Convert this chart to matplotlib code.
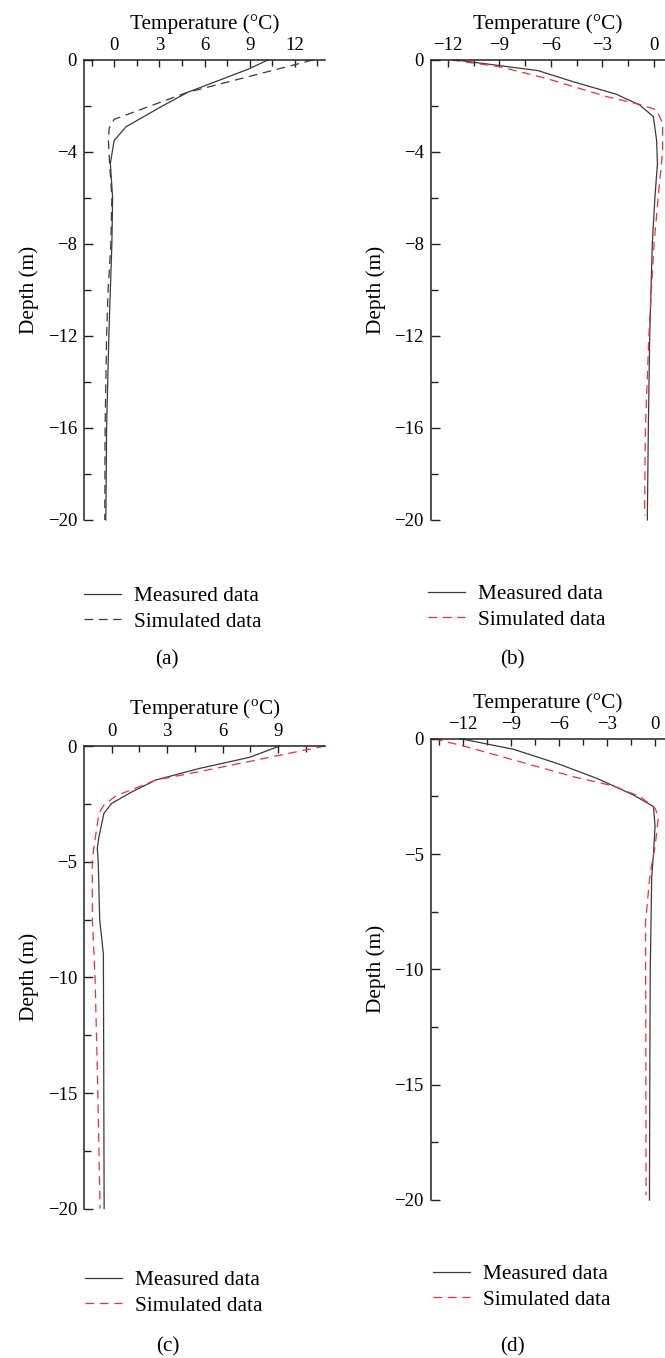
import numpy as np
import matplotlib.pyplot as plt
from matplotlib.lines import Line2D

plt.rcParams['font.family'] = ['Liberation Serif', 'DejaVu Serif']
plt.rcParams['mathtext.fontset'] = 'custom'
plt.rcParams['mathtext.rm'] = 'Liberation Serif'

W, H = 665, 1358
GREY = "#3a3a3a"
RED = "#e8343a"

# (a)
a_meas_depth = [0, -0.4, -1.4, -2.0, -2.9, -3.5, -4.5, -6, -8, -12, -16, -20]
a_meas_temp = [10.2, 8.9, 4.9, 3.2, 0.8, 0.0, -0.25, -0.1, -0.15, -0.35, -0.5, -0.55]
a_sim_depth = [0, -1.42, -2.58, -2.97, -3.5, -4.5, -6, -8, -10, -12, -16, -20]
a_sim_temp = [13.2, 4.8, 0.0, -0.33, -0.38, -0.3, -0.15, -0.22, -0.4, -0.5, -0.6, -0.62]

# (b)
b_meas_depth = [0, -0.46, -0.94, -1.49, -1.96, -2.46, -3.48, -4.5, -6, -8, -12, -16, -20]
b_meas_temp = [-11.5, -6.76, -4.72, -2.19, -0.83, -0.04, 0.15, 0.2, 0.05, -0.1, -0.25, -0.33, -0.39]
b_sim_depth = [0, -0.29, -0.8, -1.59, -1.93, -2.17, -2.75, -4.0, -5.5, -8, -12, -16, -19.8]
b_sim_temp = [-11.8, -8.99, -6.27, -2.77, -0.83, 0.15, 0.5, 0.5, 0.3, 0.0, -0.3, -0.5, -0.55]

# (c)
c_meas_depth = [0, -0.49, -0.97, -1.47, -1.97, -2.48, -2.91, -3.92, -4.42, -5, -7.5, -9, -20]
c_meas_temp = [9.1, 7.46, 4.75, 2.39, 1.12, 0.0, -0.42, -0.69, -0.78, -0.73, -0.65, -0.45, -0.41]
c_sim_depth = [0, -0.17, -1.11, -1.47, -2.16, -2.55, -2.91, -4.35, -5.0, -7.5, -10, -15, -20]
c_sim_temp = [11.55, 10.5, 4.75, 2.39, 0.22, -0.42, -0.69, -0.96, -1.05, -1.05, -0.9, -0.75, -0.63]

# (d)
d_meas_depth = [0, -0.46, -1.07, -1.72, -2.44, -2.94, -3.8, -5, -6, -10, -15, -20]
d_meas_temp = [-12.15, -8.83, -6.12, -3.63, -1.35, -0.1, 0.0, -0.1, -0.21, -0.3, -0.33, -0.35]
d_sim_depth = [0, -0.32, -0.92, -1.65, -2.05, -2.51, -3.02, -3.38, -4.68, -5.84, -8, -12, -16, -19.8]
d_sim_temp = [-13.8, -11.94, -8.83, -5.09, -2.6, -0.93, 0.0, 0.21, 0.0, -0.31, -0.6, -0.58, -0.57, -0.56]

panels = [
    # data, sim colour, xlabel, xlim, xmajor, xminor, ymajor, yminor, rect (l, r, t, b px), legend pos, caption pos
    ((a_meas_temp, a_meas_depth, a_sim_temp, a_sim_depth), GREY, "Temperature (°C)",
     (-2, 14), [0, 3, 6, 9, 12], [-1.5, 1.5, 4.5, 7.5, 10.5, 13.5],
     [0, -4, -8, -12, -16, -20], [-2, -6, -10, -14, -18],
     (84, 325, 60, 520), (84, 609), (167, 660), "(a)"),
    ((b_meas_temp, b_meas_depth, b_sim_temp, b_sim_depth), RED, "Temperature (°C)",
     (-13, 0.64), [-12, -9, -6, -3, 0], [-10.5, -7.5, -4.5, -1.5],
     [0, -4, -8, -12, -16, -20], [-2, -6, -10, -14, -18],
     (430.7, 665, 60, 520), (428, 607), (512, 660), "(b)"),
    ((c_meas_temp, c_meas_depth, c_sim_temp, c_sim_depth), RED, r"Temperature ($^{\mathrm{o}}$C)",
     (-1.5, 11.55), [0, 3, 6, 9], [1.5, 4.5, 7.5, 10.5],
     [0, -5, -10, -15, -20], [-2.5, -7.5, -12.5, -17.5],
     (84, 325, 746, 1208.7), (85, 1293), (168, 1347), "(c)"),
    ((d_meas_temp, d_meas_depth, d_sim_temp, d_sim_depth), RED, "Temperature (°C)",
     (-14, 0.62), [-12, -9, -6, -3, 0], [-13.5, -10.5, -7.5, -4.5, -1.5],
     [0, -5, -10, -15, -20], [-2.5, -7.5, -12.5, -17.5],
     (430.7, 665, 738.7, 1200), (433, 1287), (512, 1347), "(d)"),
]

fig = plt.figure(figsize=(W / 100, H / 100), dpi=100)

for (data, sim_color, xlabel, xlim, xmaj, xmin, ymaj, ymin, rect, legpos, cappos, cap) in panels:
    l, r, t, b = rect
    ax = fig.add_axes([l / W, 1 - b / H, (r - l) / W, (b - t) / H])
    mt, md, st, sd = data
    ax.plot(mt, md, color=GREY, lw=0.9, clip_on=False)
    ax.plot(st, sd, color=sim_color, lw=0.9, ls=(0, (7, 4.5)), clip_on=False)

    ax.set_xlim(*xlim)
    ax.set_ylim(ymaj[-1], 0)
    ax.xaxis.tick_top()
    ax.xaxis.set_label_position('top')
    ax.set_xticks(xmaj)
    ax.set_xticks(xmin, minor=True)
    ax.set_yticks(ymaj)
    ax.set_yticks(ymin, minor=True)
    ax.spines['right'].set_visible(False)
    ax.spines['bottom'].set_visible(False)
    for s in ['left', 'top']:
        ax.spines[s].set_linewidth(1.1)
        ax.spines[s].set_color("#222222")
    ax.tick_params(axis='x', which='major', direction='in', length=5, width=1.0,
                   labelsize=13.5, pad=4, color="#222222")
    ax.tick_params(axis='x', which='minor', direction='in', length=4, width=1.0, color="#222222")
    ax.tick_params(axis='y', which='major', direction='in', length=6.5, width=1.0,
                   labelsize=13.5, pad=5, color="#222222")
    ax.tick_params(axis='y', which='minor', direction='in', length=5, width=1.0, color="#222222")
    ax.set_xlabel(xlabel, fontsize=15.3, labelpad=6)
    ax.set_ylabel("Depth (m)", fontsize=15.3, labelpad=6)

    handles = [Line2D([], [], color=GREY, lw=0.9),
               Line2D([], [], color=sim_color, lw=0.9, ls=(0, (7, 4.5)))]
    fig.legend(handles, ["Measured data", "Simulated data"], loc='center left',
               bbox_to_anchor=(legpos[0] / W, 1 - legpos[1] / H), bbox_transform=fig.transFigure,
               frameon=False, fontsize=15.3, handlelength=1.75, handletextpad=0.6,
               borderpad=0, borderaxespad=0, labelspacing=0.25)
    fig.text(cappos[0] / W, 1 - cappos[1] / H, cap, fontsize=15.3, ha='center', va='center')

fig.savefig("out.png", dpi=100)
